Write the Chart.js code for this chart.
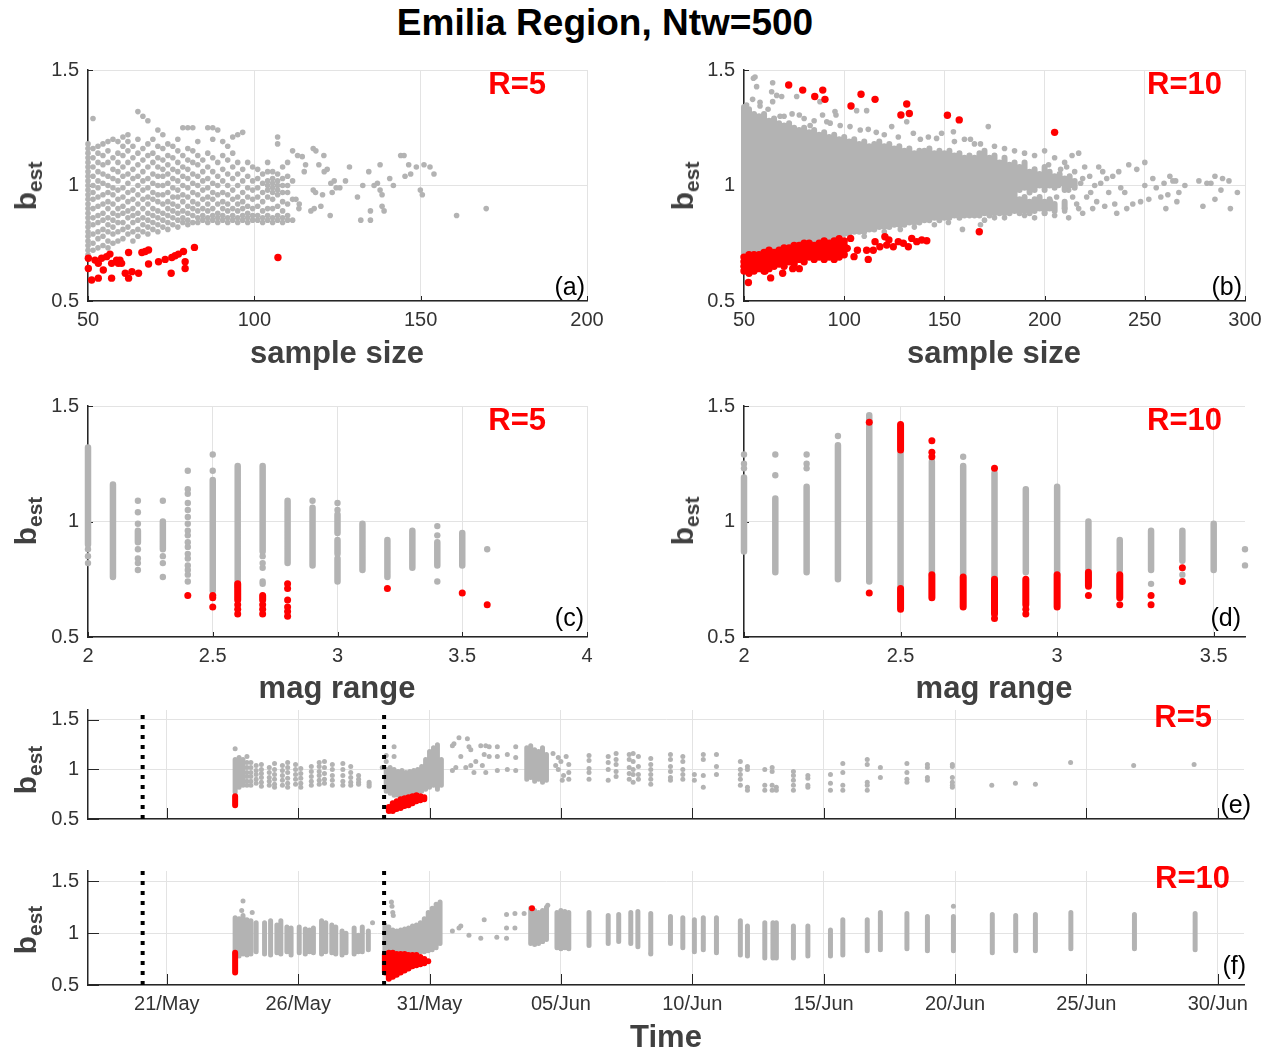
<!DOCTYPE html>
<html>
<head>
<meta charset="utf-8">
<script src="https://cdn.jsdelivr.net/npm/chart.js@4.4.0/dist/chart.umd.min.js"></script>
<style>
  body { margin: 0; background: #fff; }
  #fig { position: relative; width: 1274px; height: 1050px; overflow: hidden;
         font-family: 'Liberation Sans', Arial, Helvetica, sans-serif; }
  #fig canvas { position: absolute; z-index: 1; }
  .t { position: absolute; z-index: 2; white-space: nowrap; line-height: 1; transform: translate(-50%, -50%); }
  .title { font-weight: bold; font-size: 37px; color: #000; }
  .xl { font-weight: bold; font-size: 31px; color: #404040; }
  .bl { font-weight: bold; font-size: 30px; color: #404040; transform: translate(-50%, -50%) rotate(-90deg); }
  .bl sub { font-size: 21px; vertical-align: -0.3em; line-height: 0; }
  .r { font-weight: bold; font-size: 31px; color: #f00; transform: translate(-100%, -50%); }
  .p { font-size: 25px; color: #000; transform: translate(-100%, -50%); }
</style>
</head>
<body>
<div id="fig">
  <div class="t title" style="left:605px;top:22px">Emilia Region, Ntw=500</div>

  <div class="t xl" style="left:337px;top:352px">sample size</div>
  <div class="t xl" style="left:994px;top:352px">sample size</div>
  <div class="t xl" style="left:337px;top:687px">mag range</div>
  <div class="t xl" style="left:994px;top:687px">mag range</div>
  <div class="t xl" style="left:666px;top:1036px">Time</div>

  <div class="t bl" style="left:26px;top:186px">b<sub>est</sub></div>
  <div class="t bl" style="left:683px;top:186px">b<sub>est</sub></div>
  <div class="t bl" style="left:26px;top:521px">b<sub>est</sub></div>
  <div class="t bl" style="left:683px;top:521px">b<sub>est</sub></div>
  <div class="t bl" style="left:26px;top:770px">b<sub>est</sub></div>
  <div class="t bl" style="left:26px;top:930px">b<sub>est</sub></div>

  <div class="t r" style="left:546px;top:83px">R=5</div>
  <div class="t r" style="left:1222px;top:83px">R=10</div>
  <div class="t r" style="left:546px;top:419px">R=5</div>
  <div class="t r" style="left:1222px;top:419px">R=10</div>
  <div class="t r" style="left:1212px;top:716px">R=5</div>
  <div class="t r" style="left:1230px;top:877px">R=10</div>

  <div class="t p" style="left:585px;top:286px">(a)</div>
  <div class="t p" style="left:1242px;top:286px">(b)</div>
  <div class="t p" style="left:584px;top:617px">(c)</div>
  <div class="t p" style="left:1241px;top:617px">(d)</div>
  <div class="t p" style="left:1251px;top:804px">(e)</div>
  <div class="t p" style="left:1246px;top:965px">(f)</div>
</div>

<script>
const grey = '#b3b3b3';
const red = '#ff0000';

// axis ticks
const sizeTicksA = [50, 100, 150, 200];
const sizeTicksB = [50, 100, 150, 200, 250, 300];
const magTicksC = [2, 2.5, 3, 3.5, 4];
const magTicksD = [2, 2.5, 3, 3.5];
const bTicks = [0.5, 1, 1.5];
const timeTicks = [21, 26, 31, 36, 41, 46, 51, 56, 61];   // day counted from 1 May
const timeTickLabels = ['21/May', '26/May', '31/May', '05/Jun', '10/Jun', '15/Jun', '20/Jun', '25/Jun', '30/Jun'];
const quakeDays = [20.08, 29.27];

// (a) sample size vs b, R=5 : columns [size, [b values]]
const aGrayCols = [
  [50, [0.7, 0.72, 0.74, 0.76, 0.78, 0.8, 0.82, 0.84, 0.86, 0.88, 0.9, 0.92, 0.94, 0.96, 0.98, 1.0, 1.02, 1.04, 1.06, 1.08, 1.1, 1.12, 1.14, 1.16, 1.18]],
  [51.5, [0.72, 0.75, 0.79, 0.83, 0.86, 0.9, 0.94, 0.97, 1.0, 1.04, 1.08, 1.12, 1.16, 1.29]],
  [53, [0.73, 0.77, 0.8, 0.84, 0.87, 0.91, 0.95, 0.99, 1.02, 1.06, 1.1, 1.14, 1.17]],
  [54.5, [0.74, 0.78, 0.81, 0.85, 0.88, 0.92, 0.96, 1.01, 1.05, 1.09, 1.13, 1.18]],
  [56, [0.73, 0.76, 0.8, 0.83, 0.86, 0.9, 0.93, 0.97, 1.0, 1.04, 1.1, 1.15, 1.19]],
  [57.5, [0.75, 0.79, 0.82, 0.85, 0.88, 0.92, 0.96, 0.99, 1.03, 1.07, 1.12, 1.2]],
  [59, [0.76, 0.8, 0.84, 0.87, 0.9, 0.94, 0.98, 1.02, 1.06, 1.1, 1.14, 1.19]],
  [60.5, [0.77, 0.81, 0.84, 0.88, 0.91, 0.95, 0.99, 1.04, 1.08, 1.13, 1.17, 1.21]],
  [62, [0.79, 0.82, 0.86, 0.89, 0.93, 0.97, 1.01, 1.05, 1.1, 1.15, 1.19, 1.22]],
  [63.5, [0.76, 0.8, 0.84, 0.87, 0.9, 0.94, 0.98, 1.03, 1.07, 1.12, 1.17]],
  [65, [0.78, 0.81, 0.85, 0.88, 0.92, 0.96, 1.0, 1.04, 1.09, 1.14, 1.2, 1.32]],
  [66.5, [0.8, 0.83, 0.86, 0.9, 0.94, 0.98, 1.02, 1.06, 1.11, 1.16, 1.3]],
  [68, [0.79, 0.82, 0.85, 0.88, 0.92, 0.95, 0.99, 1.03, 1.08, 1.13, 1.18, 1.28]],
  [69.5, [0.81, 0.84, 0.87, 0.9, 0.94, 0.97, 1.01, 1.05, 1.1, 1.14, 1.2]],
  [71, [0.8, 0.83, 0.86, 0.89, 0.93, 0.96, 1.0, 1.04, 1.08, 1.12, 1.17, 1.24]],
  [72.5, [0.82, 0.85, 0.88, 0.92, 0.96, 1.0, 1.04, 1.07, 1.11, 1.16, 1.22]],
  [74, [0.81, 0.84, 0.87, 0.9, 0.93, 0.97, 1.01, 1.05, 1.09, 1.13, 1.18]],
  [75.5, [0.83, 0.86, 0.89, 0.92, 0.95, 0.99, 1.03, 1.07, 1.12, 1.17]],
  [77, [0.82, 0.85, 0.88, 0.91, 0.95, 0.98, 1.02, 1.06, 1.1, 1.15, 1.2]],
  [78.5, [0.84, 0.86, 0.89, 0.93, 0.96, 1.0, 1.04, 1.08, 1.13, 1.25]],
  [80, [0.83, 0.85, 0.88, 0.91, 0.95, 0.99, 1.03, 1.07, 1.11, 1.16, 1.25]],
  [81.5, [0.84, 0.87, 0.9, 0.93, 0.97, 1.01, 1.05, 1.1, 1.15, 1.25]],
  [83, [0.84, 0.86, 0.89, 0.92, 0.96, 1.0, 1.04, 1.09, 1.13, 1.19]],
  [84.5, [0.85, 0.87, 0.9, 0.94, 0.98, 1.02, 1.06, 1.11]],
  [86, [0.84, 0.86, 0.89, 0.92, 0.95, 0.99, 1.03, 1.08, 1.14, 1.25]],
  [87.5, [0.85, 0.87, 0.9, 0.94, 0.97, 1.01, 1.06, 1.12, 1.2, 1.25]],
  [89, [0.84, 0.86, 0.88, 0.92, 0.96, 1.0, 1.04, 1.1, 1.24]],
  [90.5, [0.85, 0.87, 0.9, 0.93, 0.97, 1.02, 1.07, 1.13, 1.19]],
  [92, [0.84, 0.86, 0.89, 0.92, 0.96, 1.0, 1.05, 1.11, 1.17]],
  [93.5, [0.85, 0.87, 0.9, 0.94, 0.98, 1.03, 1.08, 1.14, 1.21]],
  [95, [0.84, 0.86, 0.89, 0.92, 0.95, 1.0, 1.05, 1.1, 1.22]],
  [96.5, [0.85, 0.87, 0.9, 0.93, 0.97, 1.02, 1.07, 1.23]],
  [98, [0.84, 0.86, 0.88, 0.91, 0.95, 0.99, 1.04, 1.1]],
  [99.5, [0.85, 0.87, 0.9, 0.94, 0.98, 1.02, 1.08]],
  [101, [0.85, 0.87, 0.91, 0.95, 0.99, 1.03, 1.07]],
  [102.5, [0.84, 0.86, 0.89, 0.93, 0.97, 1.01, 1.05]],
  [104, [0.85, 0.87, 0.9, 0.95, 0.98, 1.0, 1.02, 1.06, 1.1]],
  [105.5, [0.84, 0.86, 0.9, 0.94, 0.97, 0.99, 1.01, 1.03, 1.06]],
  [107, [0.85, 0.87, 0.91, 0.96, 0.98, 1.0, 1.02, 1.05, 1.18, 1.21]],
  [108.5, [0.84, 0.86, 0.89, 0.93, 0.97, 1.0, 1.03, 1.08]],
  [110, [0.85, 0.87, 0.92, 0.97, 1.0, 1.04, 1.1]],
  [111.5, [0.85, 0.94, 1.02, 1.15]]
];
const aGrayPts = [
  [113, 1.13], [114.4, 1.125], [115.4, 1.09], [117.7, 1.16], [118.5, 1.15], [120.9, 1.13], [119.4, 1.09],
  [121, 1.06], [121.9, 1.07], [115, 1.06], [112.5, 0.94], [113.5, 0.92], [113.4, 0.9], [117.7, 0.98],
  [118.4, 0.97], [120.5, 0.96], [120, 0.91], [117, 0.89], [118, 0.9], [122.8, 0.87], [123, 1.01],
  [124, 1.02], [124.6, 0.99], [125.7, 0.99], [123.4, 0.97], [127.4, 1.02], [128.6, 1.08], [131, 0.95],
  [132, 0.85], [132.6, 1.0], [134.4, 1.06], [134.9, 0.89], [134.9, 0.85], [136, 1.0], [137.8, 1.09],
  [137, 1.01], [137.8, 0.98], [138.4, 0.96], [139, 0.89], [138.4, 0.91], [140.7, 1.03], [141.8, 1.0],
  [144, 1.13], [145, 1.13], [146.4, 1.09], [147, 1.05], [145.3, 1.04], [148.7, 1.08], [149.9, 0.98],
  [150.5, 0.96], [151, 1.09], [152.8, 1.08], [154, 1.05], [160.8, 0.87], [169.7, 0.9]
];
const aRedPts = [
  [50.1, 0.685], [50.1, 0.641], [51.1, 0.591], [52.1, 0.677], [53.1, 0.663], [53.1, 0.599], [54.1, 0.685],
  [54.6, 0.634], [55.6, 0.692], [56.6, 0.703], [57.1, 0.663], [57.1, 0.599], [58.6, 0.677], [59.1, 0.663],
  [59.6, 0.677], [60.1, 0.663], [61.2, 0.62], [62.2, 0.71], [62.2, 0.599], [63.2, 0.627], [65.2, 0.62],
  [66.2, 0.71], [67.2, 0.714], [68.2, 0.721], [68.2, 0.66], [71.2, 0.67], [73.2, 0.68], [75, 0.62],
  [75.2, 0.688], [76.2, 0.696], [77.2, 0.703], [78.7, 0.714], [79.2, 0.67], [79.2, 0.641], [82, 0.732],
  [107.1, 0.688]
];

// (b) sample size vs b, R=10 : dense core as [size, low b, high b]
const bGrayCore = [
  [50, 0.7, 1.34], [52.5, 0.7, 1.33], [55, 0.7, 1.31], [57.5, 0.71, 1.3], [60, 0.71, 1.31], [62.5, 0.72, 1.28],
  [65, 0.72, 1.29], [67.5, 0.73, 1.27], [70, 0.73, 1.26], [72.5, 0.74, 1.27], [75, 0.74, 1.25], [77.5, 0.75, 1.24],
  [80, 0.75, 1.25], [82.5, 0.76, 1.23], [85, 0.76, 1.24], [87.5, 0.77, 1.22], [90, 0.77, 1.23], [92.5, 0.77, 1.21],
  [95, 0.78, 1.22], [97.5, 0.78, 1.2], [100, 0.79, 1.21], [102.5, 0.79, 1.19], [105, 0.8, 1.2], [107.5, 0.8, 1.18],
  [110, 0.8, 1.19], [112.5, 0.81, 1.17], [115, 0.81, 1.18], [117.5, 0.82, 1.19], [120, 0.82, 1.17], [122.5, 0.82, 1.18],
  [125, 0.83, 1.16], [127.5, 0.83, 1.17], [130, 0.83, 1.15], [132.5, 0.84, 1.16], [135, 0.84, 1.14], [137.5, 0.84, 1.15],
  [140, 0.85, 1.15], [142.5, 0.85, 1.16], [145, 0.86, 1.14], [147.5, 0.85, 1.15], [150, 0.86, 1.14], [152.5, 0.86, 1.15],
  [155, 0.87, 1.13], [157.5, 0.86, 1.14], [160, 0.87, 1.12], [162.5, 0.87, 1.13], [165, 0.87, 1.12], [167.5, 0.87, 1.14],
  [170, 0.88, 1.15], [172.5, 0.87, 1.12], [175, 0.88, 1.13], [177.5, 0.88, 1.1], [180, 0.88, 1.12], [182.5, 0.88, 1.09],
  [185, 0.89, 1.1],
  [187.5, 0.98, 1.08], [187.5, 0.88, 0.94], [190, 0.99, 1.1], [190, 0.89, 0.95], [192.5, 0.97, 1.06], [192.5, 0.88, 0.93],
  [195, 0.98, 1.07], [195, 0.89, 0.94], [197.5, 1.0, 1.05], [197.5, 0.9, 0.95], [200, 0.98, 1.08], [200, 0.88, 0.93],
  [202.5, 1.0, 1.06], [202.5, 0.9, 0.94], [205, 0.99, 1.04], [205, 0.89, 0.92], [207.5, 1.01, 1.05], [210, 0.98, 1.03],
  [210, 0.9, 0.93], [212.5, 1.0, 1.04], [215, 0.99, 1.02]
];
const bGrayPts = [
  [54.7, 1.464], [55.5, 1.47], [56.3, 1.428], [54.3, 1.373], [64.3, 1.445], [63.8, 1.406], [66.3, 1.39],
  [68.8, 1.385], [64.3, 1.363], [76.3, 1.385], [87.9, 1.363], [89.2, 1.305], [95.4, 1.32], [95.9, 1.305],
  [106.2, 1.324], [111.2, 1.324], [131.2, 1.276], [112, 1.243], [123.7, 1.255], [148.6, 1.226], [134.5, 1.226],
  [146.1, 1.204], [171.9, 1.255], [154.5, 1.233], [77.6, 1.305], [51.3, 1.348], [58, 1.344], [68, 1.3],
  [83, 1.26], [91.3, 1.276], [102.9, 1.255], [58, 1.36], [62, 1.33], [70, 1.3], [74, 1.31], [80, 1.29],
  [85, 1.28], [93, 1.27], [98, 1.26], [108, 1.24], [116, 1.23], [120, 1.22], [127, 1.21], [138, 1.2],
  [142, 1.21], [155, 1.19], [163, 1.2], [168, 1.18], [110, 0.78], [120, 0.8], [128, 0.81], [135, 0.82],
  [145, 0.83], [152, 0.84],
  [160, 1.2], [165, 1.18], [175, 1.17], [180, 1.16], [185, 1.15], [190, 1.14], [195, 1.13], [200, 1.15],
  [205, 1.12], [210, 1.1], [213.7, 1.13], [217, 1.14],
  [159, 0.81], [168, 0.83], [170, 0.85], [175, 0.86], [180, 0.86], [190, 0.87], [195, 0.86], [200, 0.88],
  [205, 0.87], [210, 0.89], [212, 0.86],
  [201, 1.03], [202, 1.09], [203, 0.93], [204, 1.0], [206, 0.95], [207, 1.0], [208, 1.07], [210, 0.9],
  [211, 1.08], [212, 0.98], [214, 0.95], [215, 1.06], [216, 0.92], [217, 0.9], [218, 1.01], [219, 0.88],
  [219, 1.03], [220, 1.08], [221, 0.95], [222.5, 1.04], [223, 0.97], [224, 0.9], [225, 1.0], [226, 0.93],
  [227, 1.08], [228, 1.01], [229, 1.06], [230, 0.91], [231, 1.03], [232, 0.97], [234, 1.04], [235, 0.92],
  [236, 0.88], [237, 1.06], [238, 0.99], [240, 0.97], [241, 0.9], [242, 1.09], [244, 0.92], [246, 1.07],
  [247.9, 0.93], [250, 1.1], [250, 1.0], [252, 0.94], [254, 1.03], [255.7, 0.99], [258, 0.95], [259.6, 1.01],
  [260.5, 0.9], [261.5, 0.96], [262.5, 1.04], [264, 1.02], [265.4, 1.02], [266, 0.93], [267, 0.97], [270, 1.0],
  [277, 1.02], [279, 0.91], [281, 1.01], [283, 1.01], [285, 0.94], [285, 1.04], [288, 0.98], [288.8, 1.03],
  [292, 1.02], [292.7, 0.9], [296.2, 0.97]
];
const bRedCols = [
  [50, [0.63, 0.65, 0.67, 0.69]], [52.5, [0.62, 0.64, 0.66, 0.68, 0.7]], [55, [0.63, 0.65, 0.67, 0.69, 0.7]],
  [57.5, [0.64, 0.66, 0.68, 0.7]], [60, [0.63, 0.65, 0.67, 0.69, 0.71]], [62.5, [0.64, 0.66, 0.68, 0.7, 0.72]],
  [65, [0.65, 0.67, 0.69, 0.71]], [67.5, [0.66, 0.68, 0.7, 0.72]], [70, [0.65, 0.67, 0.69, 0.71, 0.73]],
  [72.5, [0.67, 0.69, 0.71, 0.73]], [75, [0.66, 0.68, 0.7, 0.72, 0.74]], [77.5, [0.68, 0.7, 0.72, 0.74]],
  [80, [0.67, 0.69, 0.71, 0.73, 0.75]], [82.5, [0.69, 0.71, 0.73, 0.75]], [85, [0.68, 0.7, 0.72, 0.74]],
  [87.5, [0.69, 0.71, 0.73, 0.75]], [90, [0.68, 0.7, 0.72, 0.74, 0.76]], [92.5, [0.69, 0.71, 0.73, 0.75]],
  [95, [0.68, 0.7, 0.72, 0.74, 0.76]], [97.5, [0.69, 0.71, 0.73, 0.75, 0.77]], [100, [0.7, 0.72, 0.74, 0.76]]
];
const bRedPts = [
  [72.3, 1.435], [79.3, 1.413], [85.3, 1.385], [89.3, 1.413], [90.4, 1.373], [103.4, 1.344], [108.4, 1.395],
  [115.4, 1.373], [128.3, 1.305], [131.2, 1.353], [132.5, 1.312], [151.5, 1.304], [157.4, 1.284], [205, 1.23],
  [167.4, 0.8], [111.2, 0.72], [117.8, 0.735], [120.3, 0.778], [124.5, 0.735], [127, 0.757], [129.5, 0.75],
  [132, 0.735], [133.7, 0.771], [136.2, 0.757], [138.7, 0.764], [141.2, 0.761], [112, 0.68], [115.4, 0.757],
  [114.5, 0.72], [121.2, 0.742], [122.3, 0.764], [106.6, 0.72], [103.2, 0.771], [101.5, 0.728], [104.9, 0.692],
  [52.2, 0.58], [63.3, 0.6], [69.3, 0.62], [74.3, 0.64], [77.6, 0.64], [60.5, 0.63]
];

// (c) mag range vs b, R=5 : dense columns [mag, low b, high b] and single dots
const cGraySegs = [
  [2.0, 0.9, 1.32], [2.1, 0.76, 1.16], [2.2, 0.91, 0.96], [2.3, 0.88, 1.0], [2.5, 0.7, 1.18], [2.6, 0.72, 1.24],
  [2.7, 0.87, 1.24], [2.8, 0.82, 1.09], [2.9, 0.81, 1.06], [3.0, 0.95, 1.03], [3.0, 0.86, 0.92], [3.0, 0.74, 0.84],
  [3.1, 0.79, 0.99], [3.2, 0.76, 0.92], [3.3, 0.8, 0.96], [3.4, 0.81, 0.91], [3.5, 0.81, 0.95]
];
const cGrayPts = [
  [2.0, 0.88], [2.0, 0.85], [2.0, 0.82], [2.2, 1.09], [2.2, 1.04], [2.2, 0.99], [2.2, 0.88], [2.2, 0.84],
  [2.2, 0.82], [2.2, 0.79], [2.3, 1.09], [2.3, 0.85], [2.3, 0.82], [2.3, 0.76],
  [2.4, 1.22], [2.4, 1.14], [2.4, 1.12], [2.4, 1.08], [2.4, 1.05], [2.4, 1.02], [2.4, 0.99], [2.4, 0.96],
  [2.4, 0.94], [2.4, 0.91], [2.4, 0.89], [2.4, 0.86], [2.4, 0.84], [2.4, 0.81], [2.4, 0.79], [2.4, 0.77],
  [2.4, 0.74], [2.5, 1.29], [2.5, 1.22], [2.7, 0.85], [2.7, 0.82], [2.7, 0.8], [2.7, 0.74], [2.7, 0.73],
  [2.9, 1.09], [3.0, 1.08], [3.0, 1.05], [3.4, 0.98], [3.4, 0.94], [3.4, 0.74], [3.6, 0.88]
];
const cRedSegs = [[2.6, 0.66, 0.73], [2.7, 0.66, 0.68]];
const cRedPts = [
  [2.4, 0.68], [2.5, 0.68], [2.5, 0.67], [2.5, 0.63], [2.6, 0.64], [2.6, 0.62], [2.6, 0.6], [2.7, 0.64],
  [2.7, 0.62], [2.7, 0.6], [2.8, 0.73], [2.8, 0.71], [2.8, 0.66], [2.8, 0.63], [2.8, 0.61], [2.8, 0.59],
  [3.2, 0.71], [3.5, 0.69], [3.6, 0.64]
];

// (d) mag range vs b, R=10
const dGraySegs = [
  [2.0, 0.87, 1.19], [2.1, 0.78, 1.1], [2.2, 0.78, 1.15], [2.3, 0.75, 1.33], [2.4, 0.74, 1.46], [2.5, 0.72, 1.3],
  [2.6, 0.77, 1.26], [2.7, 0.77, 1.24], [2.8, 0.76, 1.21], [2.9, 0.78, 1.14], [3.0, 0.77, 1.15], [3.1, 0.79, 1.0],
  [3.2, 0.79, 0.92], [3.3, 0.79, 0.96], [3.4, 0.83, 0.96], [3.5, 0.79, 0.99]
];
const dGrayPts = [
  [2.0, 1.29], [2.0, 1.25], [2.0, 1.23], [2.1, 1.29], [2.1, 1.2], [2.2, 1.29], [2.2, 1.25], [2.2, 1.23],
  [2.3, 1.37], [2.7, 1.28], [3.3, 0.73], [3.4, 0.77], [3.6, 0.88], [3.6, 0.81]
];
const dRedSegs = [
  [2.5, 1.31, 1.42], [2.5, 0.62, 0.71], [2.6, 0.67, 0.77], [2.7, 0.63, 0.76], [2.8, 0.6, 0.75], [2.9, 0.64, 0.75],
  [3.0, 0.63, 0.77], [3.1, 0.72, 0.78], [3.2, 0.67, 0.77]
];
const dRedPts = [
  [2.4, 1.43], [2.4, 0.69], [2.6, 1.35], [2.6, 1.3], [2.6, 1.28], [2.8, 1.23], [2.8, 0.58], [2.9, 0.62],
  [2.9, 0.6], [3.1, 0.68], [3.2, 0.64], [3.3, 0.68], [3.3, 0.64], [3.4, 0.8], [3.4, 0.74]
];

// (e) time vs b, R=5 : dense patches [day, low b, high b], dots as columns [day, [b values]]
const eGraySegs = [
  [23.6, 0.77, 1.1], [23.75, 0.82, 1.12], [23.9, 0.84, 1.1],
  [29.35, 0.78, 1.0], [29.5, 0.76, 1.02], [29.65, 0.74, 1.0], [29.8, 0.74, 0.98], [29.95, 0.74, 0.99],
  [30.1, 0.75, 0.97], [30.25, 0.76, 0.98], [30.4, 0.77, 0.99], [30.55, 0.78, 1.0], [30.7, 0.78, 1.03],
  [30.85, 0.8, 1.1], [31.0, 0.82, 1.18], [31.15, 0.84, 1.22], [31.3, 0.8, 1.25], [31.45, 0.84, 1.1],
  [34.7, 0.9, 1.22], [34.85, 0.92, 1.24], [35.0, 0.88, 1.2], [35.15, 0.9, 1.18], [35.3, 0.87, 1.22], [35.45, 0.89, 1.15]
];
const eGrayCols = [
  [23.6, [1.21]], [24.05, [1.13, 1.07, 1.02, 0.97, 0.93, 0.88, 0.84]], [24.2, [1.07, 1.02, 0.97, 0.93, 0.88, 0.84]],
  [24.4, [1.04, 0.99, 0.95, 0.9, 0.86]], [24.6, [1.05, 1.0, 0.96, 0.92, 0.87, 0.83]], [24.9, [1.02, 0.97, 0.92, 0.88, 0.84]],
  [25.1, [1.06, 1.0, 0.95, 0.9, 0.85, 0.82]], [25.4, [1.04, 0.99, 0.94, 0.89, 0.84]], [25.6, [1.07, 1.02, 0.97, 0.91, 0.86, 0.82]],
  [25.9, [1.05, 1.0, 0.95, 0.9, 0.85]], [26.1, [1.01, 0.96, 0.91, 0.86, 0.82]], [26.5, [1.03, 0.98, 0.93, 0.88, 0.84]],
  [26.8, [1.07, 1.03, 0.98, 0.94, 0.89, 0.85]], [27.0, [1.08, 1.02, 0.96, 0.9, 0.86]], [27.3, [1.05, 1.0, 0.94, 0.89, 0.84]],
  [27.7, [1.06, 1.0, 0.94, 0.88, 0.84]], [28.0, [1.03, 0.97, 0.92, 0.87, 0.84]], [28.3, [0.94, 0.9, 0.87, 0.85]],
  [28.7, [0.87, 0.85, 0.83]], [29.2, [1.02]], [29.35, [1.08, 1.14]], [29.65, [1.23, 1.13]],
  [31.87, [1.24, 0.99]], [31.93, [1.26]], [32.0, [1.02]], [32.12, [1.32]], [32.19, [1.13]], [32.38, [1.02]],
  [32.44, [1.31]], [32.5, [1.23]], [32.57, [1.2, 1.04]], [32.69, [0.97]], [32.76, [1.08]], [32.95, [1.24]],
  [33.01, [1.04]], [33.08, [1.15]], [33.14, [1.24, 0.97]], [33.27, [1.23, 1.13]], [33.58, [1.23, 1.13, 0.99]],
  [33.96, [1.15, 1.0]], [34.28, [1.23, 1.12, 0.99]],
  [35.7, [1.16]], [35.8, [1.04]], [35.9, [1.12, 1.0]], [36.0, [1.08]], [36.05, [0.89]], [36.1, [0.94]],
  [36.2, [1.13]], [36.3, [1.05, 0.97, 0.9]],
  [37.07, [1.14, 1.09, 1.01, 0.97, 0.9]], [37.8, [1.13, 1.07, 1.0, 0.89]], [38.1, [1.16, 1.1, 1.05, 0.98, 0.93]],
  [38.6, [1.15, 1.1, 1.02, 0.96, 0.9]], [38.75, [1.16, 1.08, 1.0, 0.95, 0.87]], [38.95, [1.13, 1.03, 0.95, 0.9]],
  [39.42, [1.11, 1.05, 1.0, 0.95, 0.9, 0.85]], [40.17, [1.15, 1.1, 1.03, 0.98, 0.92, 0.89]], [40.64, [1.13, 1.08, 1.0, 0.95, 0.9]],
  [41.08, [0.95, 0.89]], [41.42, [1.15, 1.1, 0.94, 0.82]], [41.92, [1.15, 1.03, 0.95]],
  [42.83, [1.08, 1.0, 0.95, 0.9, 0.84]], [43.1, [1.03, 1.0, 0.82, 0.79]], [43.76, [1.0, 0.84, 0.79]],
  [44.04, [1.02, 0.98, 0.84, 0.79]], [44.2, [0.82, 0.79]], [44.85, [0.98, 0.94, 0.89, 0.84, 0.79]],
  [45.4, [0.94, 0.91, 0.84, 0.82]], [46.26, [0.95, 0.86, 0.79]], [46.73, [1.06, 0.97, 0.84, 0.79]],
  [47.66, [1.1, 1.05, 0.87, 0.84, 0.79]], [48.16, [1.02, 0.92]], [49.17, [1.06, 0.97, 0.9, 0.87]],
  [49.95, [1.05, 1.02, 0.92, 0.89]], [50.9, [1.05, 1.03, 0.92, 0.87, 0.84, 0.82]], [52.4, [0.84]],
  [53.3, [0.86]], [54.06, [0.85]], [55.4, [1.07]], [57.8, [1.04]], [60.1, [1.05]]
];
const eRedSegs = [
  [23.6, 0.64, 0.73], [29.45, 0.58, 0.62], [29.6, 0.58, 0.66], [29.75, 0.6, 0.68], [29.9, 0.61, 0.7],
  [30.05, 0.63, 0.71], [30.2, 0.64, 0.72], [30.35, 0.66, 0.73], [30.5, 0.68, 0.74], [30.65, 0.69, 0.73], [30.8, 0.7, 0.72]
];

// (f) time vs b, R=10
const fGraySegs = [
  [23.6, 0.8, 1.15], [23.75, 0.78, 1.14], [23.9, 0.8, 1.17], [24.05, 0.79, 1.13], [24.2, 0.8, 1.12], [24.4, 0.82, 1.1],
  [24.72, 0.8, 1.1], [24.95, 0.79, 1.12], [25.19, 0.81, 1.08], [25.34, 0.8, 1.12], [25.57, 0.82, 1.06], [25.73, 0.79, 1.05],
  [26.04, 0.81, 1.06], [26.27, 0.8, 1.04], [26.43, 0.82, 1.03], [26.58, 0.81, 1.05], [26.89, 0.8, 1.12], [27.05, 0.82, 1.1],
  [27.28, 0.81, 1.08], [27.43, 0.8, 1.06], [27.67, 0.79, 1.02], [27.82, 0.81, 1.0], [28.13, 0.8, 1.05], [28.29, 0.82, 0.98],
  [28.44, 0.82, 1.06], [28.67, 0.84, 1.02],
  [29.3, 0.82, 1.08], [29.45, 0.8, 1.06], [29.6, 0.8, 1.03], [29.75, 0.81, 1.02], [29.9, 0.8, 1.03], [30.05, 0.81, 1.04],
  [30.2, 0.8, 1.05], [30.35, 0.81, 1.07], [30.5, 0.82, 1.08], [30.65, 0.82, 1.1], [30.8, 0.82, 1.14], [30.95, 0.83, 1.2],
  [31.1, 0.84, 1.24], [31.25, 0.86, 1.28], [31.4, 0.9, 1.3],
  [34.85, 0.9, 1.24], [35.0, 0.92, 1.22], [35.15, 0.9, 1.2], [35.3, 0.92, 1.22], [35.45, 0.94, 1.25],
  [35.85, 0.86, 1.2], [36.0, 0.85, 1.22], [36.15, 0.86, 1.21], [36.3, 0.85, 1.2],
  [37.07, 0.88, 1.2], [37.8, 0.9, 1.17], [38.2, 0.92, 1.18], [38.66, 0.9, 1.2], [38.93, 0.87, 1.21],
  [39.42, 0.81, 1.19], [40.17, 0.9, 1.16], [40.64, 0.86, 1.15], [41.08, 0.82, 1.13], [41.42, 0.84, 1.15],
  [41.92, 0.81, 1.15], [42.83, 0.79, 1.12], [43.1, 0.78, 1.07], [43.76, 0.76, 1.1], [44.07, 0.76, 1.1],
  [44.2, 0.76, 1.1], [44.85, 0.76, 1.07], [45.4, 0.78, 1.07], [46.26, 0.78, 1.03], [46.73, 0.79, 1.13],
  [47.66, 0.83, 1.13], [48.16, 0.84, 1.2], [49.17, 0.85, 1.19], [49.95, 0.83, 1.16], [50.94, 0.83, 1.16],
  [52.42, 0.81, 1.18], [53.31, 0.83, 1.17], [54.06, 0.83, 1.18], [55.41, 0.85, 1.2], [57.83, 0.85, 1.18],
  [60.14, 0.84, 1.19]
];
const fGrayPts = [
  [23.9, 1.31], [23.85, 1.22], [24.25, 1.2], [28.83, 1.1], [29.55, 1.3], [29.57, 1.26], [29.6, 1.2], [29.62, 1.17],
  [31.87, 1.02], [32.12, 1.05], [32.19, 1.07], [32.5, 0.98], [32.95, 0.95], [33.08, 1.13], [33.56, 0.96],
  [33.93, 1.18], [33.93, 0.95], [33.93, 1.05], [34.25, 1.19], [34.25, 1.05], [34.6, 1.19], [35.0, 0.89],
  [35.3, 0.92], [35.5, 1.27], [39.42, 0.8], [50.94, 1.26]
];
const fRedSegs = [
  [23.6, 0.62, 0.81], [29.3, 0.62, 0.8], [29.45, 0.56, 0.81], [29.6, 0.58, 0.81], [29.75, 0.6, 0.8], [29.9, 0.62, 0.8],
  [30.05, 0.64, 0.8], [30.2, 0.66, 0.79], [30.35, 0.68, 0.79], [30.5, 0.69, 0.79], [30.65, 0.7, 0.77], [30.8, 0.71, 0.75]
];
const fRedPts = [[34.9, 1.24], [30.95, 0.73]];

Chart.defaults.font.family = "'Liberation Sans', Arial, Helvetica, sans-serif";
Chart.defaults.color = '#333';

function colPoints(cols) {
  const out = [];
  cols.forEach(([x, ys]) => ys.forEach(y => out.push({x, y})));
  return out;
}
function pairPoints(list) {
  return list.map(([x, y]) => ({x, y}));
}
function segLine(segs) {
  const out = [];
  segs.forEach(([x, lo, hi]) => out.push({x, y: lo}, {x, y: hi}, {x, y: null}));
  return out;
}
function dots(data, color, r, order) {
  return {data, order, showLine: false, pointRadius: r, pointHoverRadius: r, pointBorderWidth: 0,
          pointBackgroundColor: color, clip: 10};
}
function strips(data, color, w, order) {
  return {data, order, showLine: true, spanGaps: false, pointRadius: 0, borderColor: color,
          borderWidth: w, borderCapStyle: 'round', clip: 10};
}
function quakeLines() {
  return {data: segLine(quakeDays.map(d => [d, 0.5, 1.6])), order: 0, showLine: true, spanGaps: false,
          pointRadius: 0, borderColor: '#000', borderWidth: 4, borderDash: [4, 6], borderCapStyle: 'butt'};
}

// matlab style ticks pointing into the plot
const inTicks = {
  id: 'inTicks',
  beforeDatasetsDraw(chart, args, opts) {
    const {ctx, chartArea: a, scales: {x, y}} = chart;
    ctx.save();
    ctx.strokeStyle = '#262626';
    ctx.lineWidth = 1;
    ctx.beginPath();
    x.ticks.forEach(t => {
      const px = Math.round(x.getPixelForValue(t.value)) + 0.5;
      ctx.moveTo(px, a.bottom); ctx.lineTo(px, a.bottom - opts.len);
    });
    y.ticks.forEach(t => {
      const py = Math.round(y.getPixelForValue(t.value)) + 0.5;
      ctx.moveTo(a.left, py); ctx.lineTo(a.left + opts.len, py);
    });
    ctx.stroke();
    ctx.restore();
  }
};

function axis(min, max, ticks, fmt, size, horizontal, showLabels) {
  return {
    type: 'linear', min, max,
    afterBuildTicks: s => { s.ticks = ticks.map(v => ({value: v})); },
    afterFit: s => { if (horizontal) s.height = size; else s.width = size; },
    ticks: {display: showLabels, color: '#333', font: {size: 20}, padding: horizontal ? 7 : 9,
            autoSkip: false, maxRotation: 0, callback: fmt},
    grid: {color: '#e3e3e3', lineWidth: 1, drawTicks: false},
    border: {color: '#262626', width: 1.5}
  };
}

const numFmt = v => String(v);
const timeFmt = (v, i) => timeTickLabels[i];

function makePanel(p) {
  const [l, t, r, b] = p.area;
  const xh = p.xLabels ? 40 : 16;
  const w = r - l + 60 + 28, h = b - t + 20 + xh;
  const cv = document.createElement('canvas');
  cv.width = w; cv.height = h;
  cv.style.left = (l - 60) + 'px'; cv.style.top = (t - 20) + 'px';
  cv.style.width = w + 'px'; cv.style.height = h + 'px';
  document.getElementById('fig').appendChild(cv);
  new Chart(cv, {
    type: 'scatter',
    data: {datasets: p.sets},
    options: {
      responsive: false, animation: false, events: [], devicePixelRatio: 1,
      layout: {padding: {top: 20, right: 28, left: 0, bottom: 0}, autoPadding: false},
      plugins: {legend: {display: false}, tooltip: {enabled: false}, inTicks: {len: p.tickLen}},
      scales: {
        x: axis(p.x[0], p.x[1], p.xTicks, p.xFmt || numFmt, xh, true, p.xLabels),
        y: axis(p.y[0], p.y[1], p.yTicks, numFmt, 60, false, true)
      }
    },
    plugins: [inTicks]
  });
}

document.addEventListener('DOMContentLoaded', () => {
  const panels = [
    {area: [88, 69, 587, 301], x: [50, 200], xTicks: sizeTicksA, y: [0.5, 1.5], yTicks: bTicks, xLabels: true, tickLen: 5,
     sets: [dots(colPoints(aGrayCols).concat(pairPoints(aGrayPts)), grey, 2.8, 3),
            dots(pairPoints(aRedPts), red, 3.7, 1)]},
    {area: [744, 69, 1245, 301], x: [50, 300], xTicks: sizeTicksB, y: [0.5, 1.5], yTicks: bTicks, xLabels: true, tickLen: 5,
     sets: [strips(segLine(bGrayCore), grey, 6, 3),
            dots(pairPoints(bGrayPts), grey, 2.8, 3),
            dots(colPoints(bRedCols).concat(pairPoints(bRedPts)), red, 3.7, 1)]},
    {area: [88, 405, 587, 637], x: [2, 4], xTicks: magTicksC, y: [0.5, 1.5], yTicks: bTicks, xLabels: true, tickLen: 5,
     sets: [strips(segLine(cGraySegs), grey, 6.5, 3),
            dots(pairPoints(cGrayPts), grey, 3.2, 3),
            strips(segLine(cRedSegs), red, 7, 1),
            dots(pairPoints(cRedPts), red, 3.5, 1)]},
    {area: [744, 405, 1245, 637], x: [2, 3.6], xTicks: magTicksD, y: [0.5, 1.5], yTicks: bTicks, xLabels: true, tickLen: 5,
     sets: [strips(segLine(dGraySegs), grey, 6.5, 3),
            dots(pairPoints(dGrayPts), grey, 3.2, 3),
            strips(segLine(dRedSegs), red, 7, 1),
            dots(pairPoints(dRedPts), red, 3.5, 1)]},
    {area: [88, 709, 1244, 824], x: [18, 62], xTicks: timeTicks, xFmt: timeFmt, y: [0.5, 1.6], yTicks: bTicks, xLabels: false, tickLen: 11,
     sets: [strips(segLine(eGraySegs), grey, 5, 3),
            dots(colPoints(eGrayCols), grey, 2.5, 3),
            strips(segLine(eRedSegs), red, 6, 1),
            quakeLines()]},
    {area: [88, 870, 1244, 985], x: [18, 62], xTicks: timeTicks, xFmt: timeFmt, y: [0.5, 1.6], yTicks: bTicks, xLabels: true, tickLen: 11,
     sets: [strips(segLine(fGraySegs), grey, 5, 3),
            dots(pairPoints(fGrayPts), grey, 2.5, 3),
            strips(segLine(fRedSegs), red, 6, 1),
            dots(pairPoints(fRedPts), red, 3, 1),
            quakeLines()]}
  ];
  panels.forEach(makePanel);
});
</script>
</body>
</html>
